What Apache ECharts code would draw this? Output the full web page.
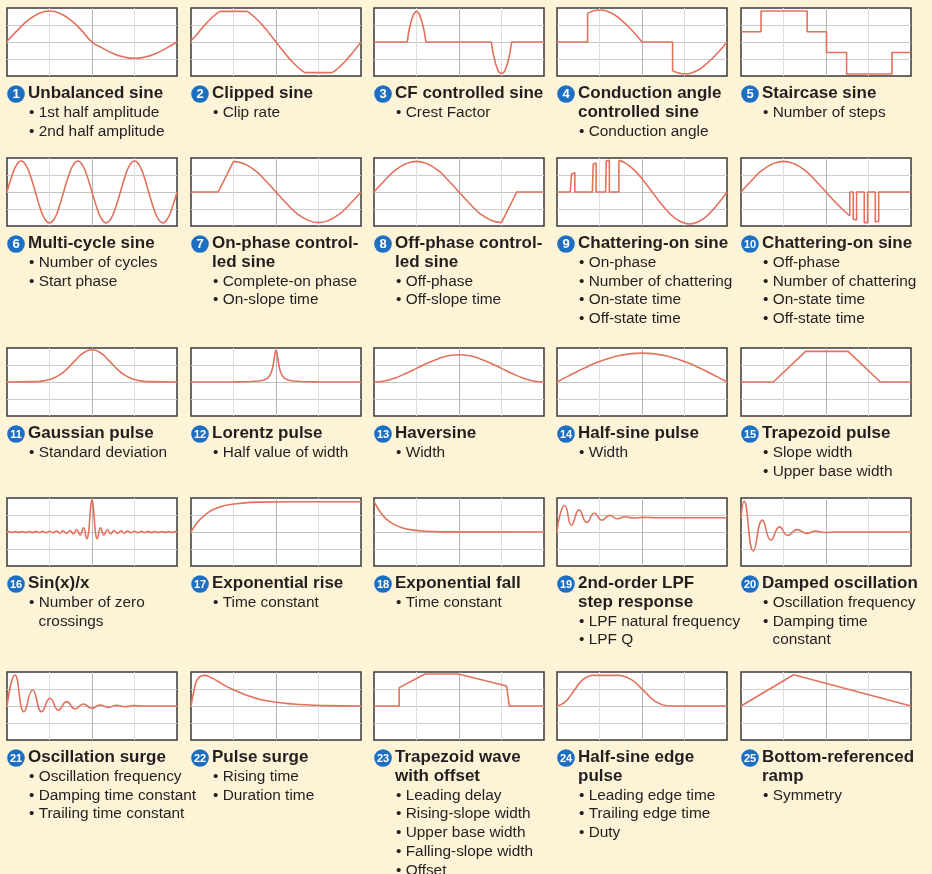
<!DOCTYPE html>
<html><head><meta charset="utf-8">
<script src="https://cdn.jsdelivr.net/npm/echarts@6/dist/echarts.min.js"></script>
<style>html,body{margin:0;padding:0;background:#fdf3d6;}#c{width:932px;height:874px;}</style>
</head><body><div id="c"></div>
<script>
// ---------- waveform data (x: 0..100 % of box width, y: -1..1) ----------
const unbalancedSine = [[0,0.02],[6.25,0.35],[12.5,0.64],[18.75,0.84],[25,0.91],[31.25,0.84],[37.5,0.64],[43.75,0.35],[50,0],[56.25,-0.18],[62.5,-0.34],[68.75,-0.44],[75,-0.48],[81.25,-0.44],[87.5,-0.34],[93.75,-0.18],[100,0]];
const clippedSine = [[0,0.04],[3.1,0.2],[6.25,0.394],[9.4,0.573],[12.5,0.728],[15.6,0.856],[17,0.9],[33,0.9],[34.4,0.856],[37.5,0.728],[40.6,0.573],[43.75,0.394],[46.9,0.2],[50,0],[53.1,-0.2],[56.25,-0.394],[59.4,-0.573],[62.5,-0.728],[65.6,-0.856],[67,-0.9],[83,-0.9],[84.4,-0.856],[87.5,-0.728],[90.6,-0.573],[93.75,-0.394],[96.9,-0.2],[100,0]];
const cfSine = [[0,0],[19.6,0],[20.4,0.3],[21.8,0.6],[23.3,0.82],[25,0.91],[26.7,0.82],[28.2,0.6],[29.6,0.3],[30.6,0],[69,0],[70,-0.32],[71.5,-0.64],[73.2,-0.87],[75,-0.94],[76.8,-0.87],[78.5,-0.64],[80,-0.32],[81,0],[100,0]];
const conductionOff1 = [[0,0],[18,0],[18,0.85]];
const conductionOn1 = [[18,0.85],[25,0.94],[31.25,0.87],[37.5,0.66],[43.75,0.36],[50,0]];
const conductionOff2 = [[50,0],[68,0],[68,-0.85]];
const conductionOn2 = [[68,-0.85],[75,-0.94],[81.25,-0.87],[87.5,-0.66],[93.75,-0.36],[100,0]];
const staircaseSine = [[0,0.3],[11.8,0.3],[11.8,0.91],[38.9,0.91],[38.9,0.3],[50.3,0.3],[50.3,-0.31],[62.1,-0.31],[62.1,-0.94],[88.8,-0.94],[88.8,-0.31],[100,-0.31]];
const multiCycleSine = [[0,0],[2.78,0.455],[5.56,0.79],[8.33,0.91],[11.1,0.79],[13.9,0.455],[16.7,0],[19.4,-0.455],[22.2,-0.79],[25,-0.91],[27.8,-0.79],[30.6,-0.455],[33.3,0],[36.1,0.455],[38.9,0.79],[41.7,0.91],[44.4,0.79],[47.2,0.455],[50,0],[52.8,-0.455],[55.6,-0.79],[58.3,-0.91],[61.1,-0.79],[63.9,-0.455],[66.7,0],[69.4,0.455],[72.2,0.79],[75,0.91],[77.8,0.79],[80.6,0.455],[83.3,0],[86.1,-0.455],[88.9,-0.79],[91.7,-0.91],[94.4,-0.79],[97.2,-0.455],[100,0]];
const onPhaseRamp = [[0,0],[16,0],[25,0.9]];
const onPhaseSine = [[25,0.9],[31.25,0.83],[37.5,0.64],[43.75,0.34],[50,0],[56.25,-0.34],[62.5,-0.64],[68.75,-0.83],[75,-0.9],[81.25,-0.83],[87.5,-0.64],[93.75,-0.34],[100,0]];
const offPhaseSine = [[0,0],[6.25,0.34],[12.5,0.64],[18.75,0.83],[25,0.9],[31.25,0.83],[37.5,0.64],[43.75,0.34],[50,0],[56.25,-0.34],[62.5,-0.64],[68.75,-0.83],[75,-0.9]];
const offPhaseRamp = [[75,-0.9],[84,0],[100,0]];
const chatterOnPulses = [[0,0],[7.8,0],[8.5,0.52],[10.5,0.57],[10.5,0],[20.8,0],[21.3,0.82],[23,0.85],[23,0],[28.6,0],[29,0.91],[30.8,0.93],[30.8,0],[36.4,0],[36.4,0.93]];
const chatterOnSine = [[36.4,0.93],[40,0.855],[45,0.665],[50,0.39],[56,0],[61,-0.33],[67,-0.665],[72,-0.855],[78,-0.94],[84,-0.855],[89,-0.665],[95,-0.33],[100,0]];
const chatterOffSine = [[0,0],[6.25,0.34],[12.5,0.64],[18.75,0.83],[25,0.9],[31.25,0.83],[37.5,0.64],[43.75,0.34],[50,0],[56.25,-0.34],[62.5,-0.64],[64,-0.7]];
const chatterOffPulses = [[64,-0.7],[64,0],[66,0],[66,-0.8],[68,-0.82],[68,0],[72.5,0],[72.5,-0.9],[74.5,-0.9],[74.5,0],[79,0],[79,-0.88],[81,-0.86],[81,0],[100,0]];
const gaussianPulse = [[0,0],[15,0.01],[20,0.023],[25,0.072],[30,0.18],[35,0.37],[40,0.63],[45,0.86],[50,0.95],[55,0.86],[60,0.63],[65,0.37],[70,0.18],[75,0.072],[80,0.023],[85,0.01],[100,0]];
const lorentzPulse = [[0,0],[25,0.005],[35,0.013],[40,0.029],[43,0.058],[45,0.11],[46.5,0.2],[47.5,0.32],[48.2,0.47],[48.8,0.65],[49.4,0.85],[50,0.94],[50.6,0.85],[51.2,0.65],[51.8,0.47],[52.5,0.32],[53.5,0.2],[55,0.11],[57,0.058],[60,0.029],[65,0.013],[75,0.005],[100,0]];
const haversine = [[0,0],[6.25,0.03],[12.5,0.12],[18.75,0.25],[25,0.4],[31.25,0.55],[37.5,0.68],[43.75,0.77],[50,0.8],[56.25,0.77],[62.5,0.68],[68.75,0.55],[75,0.4],[81.25,0.25],[87.5,0.12],[93.75,0.03],[100,0]];
const halfSinePulse = [[0,0],[6.25,0.166],[12.5,0.326],[18.75,0.473],[25,0.601],[31.25,0.706],[37.5,0.785],[43.75,0.834],[50,0.85],[56.25,0.834],[62.5,0.785],[68.75,0.706],[75,0.601],[81.25,0.473],[87.5,0.326],[93.75,0.166],[100,0]];
const trapezoidPulse = [[0,0],[19,0],[38,0.9],[63,0.9],[82,0],[100,0]];
const sincPulse = [[0,0],[1,0.012],[3,-0.013],[5,0.013],[7,-0.014],[9,0.015],[11,-0.016],[13,0.016],[15,-0.017],[17,0.018],[19,-0.019],[21,0.021],[23,-0.022],[25,0.024],[27,-0.026],[29,0.029],[31,-0.032],[33,0.036],[35,-0.04],[37,0.046],[39,-0.055],[41,0.067],[43,-0.086],[45,0.121],[47,-0.2],[48,0],[48.5,0.285],[49,0.605],[49.5,0.855],[50,0.95],[50.5,0.855],[51,0.605],[51.5,0.285],[52,0],[53,-0.2],[55,0.121],[57,-0.086],[59,0.067],[61,-0.055],[63,0.046],[65,-0.04],[67,0.036],[69,-0.032],[71,0.029],[73,-0.026],[75,0.024],[77,-0.022],[79,0.021],[81,-0.019],[83,0.018],[85,-0.017],[87,0.016],[89,-0.016],[91,0.015],[93,-0.014],[95,0.013],[97,-0.013],[99,0.012],[100,0]];
const exponentialRise = [[0,0],[2,0.16],[5,0.35],[10,0.57],[15,0.7],[20,0.78],[30,0.85],[40,0.88],[60,0.89],[100,0.89]];
const exponentialFall = [[0,0.9],[2,0.72],[5,0.5],[8,0.35],[12,0.22],[16,0.13],[20,0.08],[30,0.02],[40,0.005],[100,0]];
const lpfStep = [[0,0],[2,0.55],[4.5,0.78],[8.5,0.2],[13,0.65],[17.5,0.28],[22,0.55],[26.5,0.35],[31,0.49],[35.5,0.39],[40,0.45],[45,0.41],[50,0.43],[60,0.42],[100,0.42]];
const dampedOscillation = [[0,0.4],[1.8,0.9],[7.3,-0.56],[12.6,0.35],[17.6,-0.24],[22.7,0.15],[27.4,-0.1],[33,0.07],[38.5,-0.04],[43.8,0.03],[49,-0.015],[55,0],[100,0]];
const oscillationSurge = [[0,0],[4.7,0.91],[10,-0.17],[15.1,0.47],[20.4,-0.17],[25.3,0.23],[30.2,-0.12],[35.1,0.13],[40,-0.09],[44.9,0.06],[49.8,-0.07],[54.7,0.03],[59.6,-0.04],[64.5,0.02],[69.4,-0.02],[74.3,0.01],[80,0],[100,0]];
const pulseSurge = [[0,0],[2,0.5],[4,0.8],[8,0.9],[12,0.83],[16,0.72],[20,0.6],[25,0.48],[30,0.37],[35,0.28],[40,0.2],[50,0.11],[60,0.06],[70,0.03],[80,0.01],[100,0]];
const trapezoidOffset = [[0,0],[14.8,0],[14.8,0.54],[30,0.94],[49.6,0.94],[78,0.59],[79.6,0],[100,0]];
const halfSineEdgeLead = [[0,0],[5,0.13],[10,0.45],[15,0.77],[20,0.9]];
const halfSineEdgeTop = [[20,0.9],[37,0.9]];
const halfSineEdgeTrail = [[37,0.9],[44,0.77],[51,0.45],[58,0.13],[65,0]];
const halfSineEdgeBase = [[65,0],[100,0]];
const bottomRamp = [[0,0],[31,0.92],[100,0]];

// ---------- labels ----------
const titles = [
  ['Unbalanced sine'], ['Clipped sine'], ['CF controlled sine'], ['Conduction angle','controlled sine'], ['Staircase sine'],
  ['Multi-cycle sine'], ['On-phase control-','led sine'], ['Off-phase control-','led sine'], ['Chattering-on sine'], ['Chattering-on sine'],
  ['Gaussian pulse'], ['Lorentz pulse'], ['Haversine'], ['Half-sine pulse'], ['Trapezoid pulse'],
  ['Sin(x)/x'], ['Exponential rise'], ['Exponential fall'], ['2nd-order LPF','step response'], ['Damped oscillation'],
  ['Oscillation surge'], ['Pulse surge'], ['Trapezoid wave','with offset'], ['Half-sine edge','pulse'], ['Bottom-referenced','ramp']
];
const params = [
  ['1st half amplitude','2nd half amplitude'], ['Clip rate'], ['Crest Factor'], ['Conduction angle'], ['Number of steps'],
  ['Number of cycles','Start phase'], ['Complete-on phase','On-slope time'], ['Off-phase','Off-slope time'],
  ['On-phase','Number of chattering','On-state time','Off-state time'], ['Off-phase','Number of chattering','On-state time','Off-state time'],
  ['Standard deviation'], ['Half value of width'], ['Width'], ['Width'], ['Slope width','Upper base width'],
  [['Number of zero','crossings']], ['Time constant'], ['Time constant'], ['LPF natural frequency','LPF Q'], ['Oscillation frequency',['Damping time','constant']],
  ['Oscillation frequency','Damping time constant','Trailing time constant'], ['Rising time','Duration time'],
  ['Leading delay','Rising-slope width','Upper base width','Falling-slope width','Offset'], ['Leading edge time','Trailing edge time','Duty'], ['Symmetry']
];

// segments per panel: [data, smooth]
const panels = [
  [[unbalancedSine,true]], [[clippedSine,false]], [[cfSine,false]],
  [[conductionOff1,false],[conductionOn1,true],[conductionOff2,false],[conductionOn2,true]], [[staircaseSine,false]],
  [[multiCycleSine,true]], [[onPhaseRamp,false],[onPhaseSine,true]], [[offPhaseSine,true],[offPhaseRamp,false]],
  [[chatterOnPulses,false],[chatterOnSine,true]], [[chatterOffSine,true],[chatterOffPulses,false]],
  [[gaussianPulse,true]], [[lorentzPulse,false]], [[haversine,true]], [[halfSinePulse,true]], [[trapezoidPulse,false]],
  [[sincPulse,true]], [[exponentialRise,true]], [[exponentialFall,true]], [[lpfStep,true]], [[dampedOscillation,true]],
  [[oscillationSurge,true]], [[pulseSurge,true]], [[trapezoidOffset,false]],
  [[halfSineEdgeLead,true],[halfSineEdgeTop,false],[halfSineEdgeTrail,true],[halfSineEdgeBase,false]], [[bottomRamp,false]]
];

// ---------- layout ----------
const COLS = [7, 191, 374, 557, 741];
const ROWS = [8, 158, 348, 498, 672];
const BW = 170, BH = 68, LH = 18.8;
const WAVE = '#e2725c';
const TXT = '#231f20';
const FONT = '"Liberation Sans", Arial, Helvetica, sans-serif';

const grid = [], xAxis = [], yAxis = [], series = [], graphic = [];
for (let i = 0; i < 25; i++) {
  const L = COLS[i % 5], T = ROWS[Math.floor(i / 5)];
  grid.push({left: L, top: T, width: BW, height: BH, show: true, backgroundColor: '#ffffff', borderColor: '#3a3a3a', borderWidth: 1.5});
  xAxis.push({gridIndex: i, type: 'value', min: 0, max: 100, interval: 25,
    axisLine: {show: false}, axisTick: {show: false}, axisLabel: {show: false},
    splitLine: {show: true, lineStyle: {width: 1, color: ['rgba(0,0,0,0)', '#dedede', '#b4b4b4', '#dedede', 'rgba(0,0,0,0)']}}});
  yAxis.push({gridIndex: i, type: 'value', min: -1, max: 1, interval: 0.5,
    axisLine: {show: false}, axisTick: {show: false}, axisLabel: {show: false},
    splitLine: {show: true, lineStyle: {width: 1, color: ['rgba(0,0,0,0)', '#cdcdcd', '#c4c4c4', '#cdcdcd', 'rgba(0,0,0,0)']}}});
  panels[i].forEach(seg => {
    series.push({type: 'line', xAxisIndex: i, yAxisIndex: i, data: seg[0], smooth: seg[1], showSymbol: false, symbol: 'none',
      lineStyle: {color: WAVE, width: 1.6}, animation: false, silent: true, z: 3});
  });
  // labels
  const Ty = T + BH + 17;
  graphic.push({type: 'circle', shape: {cx: L + 9, cy: Ty + 1, r: 8.8}, style: {fill: '#1d6fc4'}, silent: true});
  const n = i + 1;
  graphic.push({type: 'text', silent: true, style: {text: String(n), x: L + 9, y: Ty + 1.5,
    font: (n < 10 ? 'bold 13px ' : 'bold 11px ') + (n < 10 ? FONT : '"Liberation Sans Narrow", ' + FONT),
    fill: '#ffffff', textAlign: 'center', textVerticalAlign: 'middle', align: 'center', verticalAlign: 'middle'}});
  let line = 0;
  titles[i].forEach(t => {
    graphic.push({type: 'text', silent: true, style: {text: t, x: L + 21, y: Ty + line * LH + 0.5,
      font: 'bold 17px ' + FONT, fill: TXT, textVerticalAlign: 'middle', verticalAlign: 'middle'}});
    line++;
  });
  params[i].forEach(p => {
    const parts = Array.isArray(p) ? p : [p];
    parts.forEach((t, k) => {
      graphic.push({type: 'text', silent: true, style: {text: (k === 0 ? '\u2022 ' : '') + t, x: k === 0 ? L + 22 : L + 31.5, y: Ty + line * LH + 0.8,
        font: '15.4px ' + FONT, fill: TXT, textVerticalAlign: 'middle', verticalAlign: 'middle'}});
      line++;
    });
  });
}

const chart = echarts.init(document.getElementById('c'), null, {renderer: 'canvas'});
chart.setOption({backgroundColor: '#fdf3d6', animation: false, grid, xAxis, yAxis, series, graphic});
</script></body></html>
